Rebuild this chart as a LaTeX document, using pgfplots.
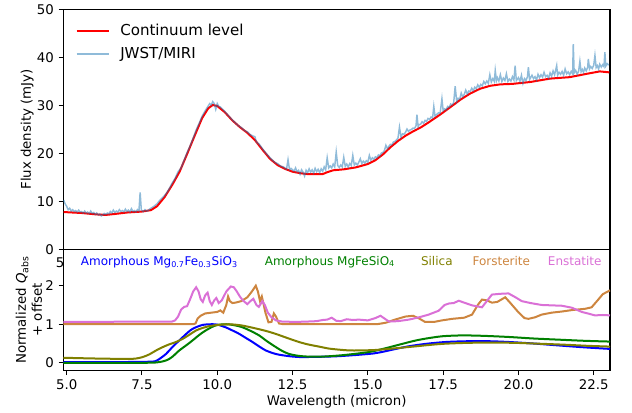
\documentclass[border=0pt]{standalone}
\usepackage{fontspec}
\setmainfont{DejaVu Sans}
\usepackage{pgfplots}
\pgfplotsset{compat=1.18}
\usetikzlibrary{calc}

\definecolor{mplblue}{HTML}{1F77B4}
\definecolor{mplgreen}{HTML}{008000}
\definecolor{mplolive}{HTML}{808000}
\definecolor{mplperu}{HTML}{CD853F}
\definecolor{mplorchid}{HTML}{DA70D6}

\pgfplotsset{
  panel/.style={
    scale only axis, width=410pt,
    xmin=4.89, xmax=23.04,
    tick align=outside, tick pos=left,
    major tick length=3.5pt,
    tick style={black, line width=0.8pt},
    axis line style={line width=0.8pt},
    /pgf/number format/assume math mode=true,
    clip=false,
  },
}

\begin{document}
\begin{tikzpicture}
% upper panel: spectrum and continuum
\begin{axis}[panel, name=top,
  height=180pt,
  ymin=0, ymax=50, ytick={0,10,...,50},
  xtick=\empty,
  ylabel={Flux density (mJy)},
  ylabel style={at={(axis description cs:-0.066,0.5)}, anchor=center},
  legend style={draw=none, fill=none, at={(axis description cs:0,1)},
    anchor=north west, xshift=6pt, yshift=-7pt,
    font=\fontsize{11.3}{13.5}\selectfont, row sep=3pt,
    /tikz/every odd column/.append style={column sep=6pt}},
  legend cell align=left,
  legend image code/.code={\draw[#1] (0pt,0pt) -- (24pt,0pt);},
]
\addplot[red, line width=1.5pt] coordinates {
(4.9,7.8) (5.5,7.6) (6.0,7.3) (6.3,7.2) (6.6,7.4) (7.0,7.7) (7.5,7.9) (7.8,8.2)
(8.0,9.0) (8.25,10.9) (8.5,13.4) (8.75,16.2) (9.0,19.9) (9.25,23.7) (9.5,27.4)
(9.7,29.4) (9.85,30.1) (10.0,29.9) (10.25,28.6) (10.5,26.9) (10.75,25.5) (11.0,24.3)
(11.25,22.8) (11.5,20.8) (11.75,18.9) (12.0,17.6) (12.25,16.8) (12.5,16.2) (12.75,15.9)
(13.0,15.7) (13.5,15.7) (13.65,16.1) (13.85,16.5) (14.2,16.7) (14.6,17.1) (15.0,17.8)
(15.25,18.6) (15.5,19.8) (15.75,21.3) (16.0,22.6) (16.25,23.7) (16.5,24.6) (16.75,25.4)
(17.0,26.4) (17.4,28.1) (17.75,29.7) (18.07,31.2) (18.4,32.5) (18.73,33.5) (19.06,34.1)
(19.4,34.4) (19.8,34.5) (20.4,34.9) (21.05,35.6) (21.7,35.9) (22.27,36.6) (22.7,37.1)
(23.02,36.9)
};
\addlegendentry{Continuum level}
\addplot[mplblue, opacity=0.5, line width=1.1pt] coordinates {
(4.9,10.3) (4.95,9.5) (5.0,9.0) (5.05,8.3) (5.1,8.6) (5.15,8.0) (5.2,8.3) (5.25,7.9)
(5.3,8.1) (5.35,7.8) (5.4,8.2) (5.45,7.8) (5.5,7.9) (5.55,7.6) (5.6,8.0) (5.65,7.6)
(5.7,7.8) (5.75,7.5) (5.8,8.0) (5.85,7.5) (5.9,7.7) (5.95,7.3) (6.0,7.6) (6.05,7.2)
(6.1,7.4) (6.15,7.0) (6.2,7.2) (6.25,7.5) (6.3,7.3) (6.35,7.6) (6.4,7.4) (6.45,7.9)
(6.5,7.6) (6.55,8.2) (6.6,7.7) (6.65,8.0) (6.7,7.8) (6.75,8.3) (6.8,7.9) (6.85,8.1)
(6.9,7.8) (6.95,8.4) (7.0,7.9) (7.05,8.2) (7.1,7.8) (7.15,8.5) (7.2,7.9) (7.25,8.1)
(7.3,7.8) (7.35,8.3) (7.4,8.0) (7.44,11.9) (7.48,8.2) (7.55,7.9) (7.6,8.3) (7.65,8.0)
(7.7,8.1) (7.75,8.4) (7.8,8.6) (7.9,9.0) (8.0,9.5) (8.1,10.3) (8.2,10.9) (8.3,11.6)
(8.4,12.6) (8.5,13.8) (8.6,14.8) (8.7,16.2) (8.8,17.0) (8.9,18.6) (9.0,20.2) (9.1,21.6)
(9.2,23.2) (9.3,24.9) (9.4,26.3) (9.5,27.8) (9.6,28.9) (9.7,29.9) (9.75,30.4) (9.8,30.1)
(9.85,30.8) (9.9,30.4) (9.95,29.2) (10.0,30.4) (10.05,29.8) (10.1,29.7) (10.2,29.1)
(10.3,28.4) (10.4,27.7) (10.5,27.0) (10.6,26.4) (10.7,25.8) (10.8,25.4) (10.9,24.8)
(11.0,24.5) (11.1,23.9) (11.2,23.6) (11.25,23.5) (11.3,22.4) (11.4,21.9) (11.5,21.0)
(11.6,20.2) (11.7,19.5) (11.8,18.8) (11.9,18.2) (12.0,17.9) (12.1,17.4) (12.2,17.2)
(12.3,16.7) (12.35,18.7) (12.4,16.6) (12.45,16.9)
(12.50,16.6) (12.55,16.3) (12.60,17.0) (12.65,16.2) (12.70,16.5) (12.75,15.7) (12.80,16.6)
(12.85,16.1) (12.90,15.3) (12.95,16.5) (13.00,16.0) (13.05,16.8) (13.10,16.1) (13.15,16.6)
(13.20,15.9) (13.25,16.9) (13.30,16.2) (13.35,16.7) (13.40,16.0) (13.45,16.8) (13.50,16.3)
(13.55,17.2) (13.60,16.6) (13.65,19.1) (13.70,17.0) (13.75,17.4) (13.80,17.0) (13.85,17.8)
(13.90,17.2) (13.95,20.3) (14.00,17.5) (14.05,17.1) (14.10,17.6) (14.15,17.2) (14.20,19.2)
(14.25,17.3) (14.30,17.8) (14.35,17.2) (14.40,17.9) (14.45,17.5) (14.50,19.6) (14.55,17.6)
(14.60,18.0) (14.65,17.6) (14.70,18.2) (14.75,18.9) (14.80,17.9) (14.85,18.4) (14.90,18.0)
(14.95,18.5) (15.00,18.2) (15.05,19.6) (15.10,18.6) (15.15,19.1) (15.20,18.8) (15.25,19.3)
(15.30,19.1) (15.35,19.7) (15.40,19.5) (15.45,20.1) (15.50,20.2) (15.55,20.6) (15.60,21.7)
(15.65,21.0) (15.70,21.5) (15.75,21.9) (15.80,21.8) (15.85,22.4) (15.90,22.5) (15.95,22.8)
(16.00,23.2) (16.05,25.5) (16.10,23.4) (16.15,24.1) (16.20,24.0) (16.25,24.4) (16.30,25.1)
(16.35,24.6) (16.40,24.9) (16.45,25.0) (16.50,25.3) (16.55,25.2) (16.60,25.8) (16.63,28.1)
(16.67,25.6) (16.70,26.0) (16.75,26.1) (16.80,26.6) (16.85,26.3) (16.90,26.9) (16.95,26.7)
(17.00,27.3) (17.05,27.1) (17.10,27.6) (17.15,27.4) (17.19,29.8) (17.23,27.8) (17.30,28.2)
(17.35,28.5) (17.40,28.4) (17.46,31.4) (17.50,28.9) (17.55,29.3) (17.60,29.1) (17.65,29.8)
(17.70,29.6) (17.75,30.3) (17.80,30.1) (17.85,30.6) (17.90,34.0) (17.95,30.8) (18.00,31.5)
(18.05,31.3) (18.10,32.6) (18.15,31.8) (18.20,32.3) (18.25,33.2) (18.30,32.4) (18.35,33.0)
(18.40,32.9) (18.45,33.6) (18.50,33.1) (18.55,33.8) (18.60,33.5) (18.65,34.3) (18.70,33.8)
(18.75,34.4) (18.80,34.1) (18.85,35.0) (18.90,34.5) (18.95,35.1) (19.00,34.6) (19.05,36.4)
(19.10,34.9) (19.15,35.6) (19.20,35.0) (19.23,37.3) (19.27,35.2) (19.30,35.8) (19.35,35.1)
(19.40,36.4) (19.45,35.0) (19.50,35.7) (19.55,35.2) (19.60,36.6) (19.65,35.0) (19.70,35.5)
(19.75,35.1) (19.80,36.0) (19.85,35.3) (19.89,38.3) (19.93,35.2) (20.00,35.8) (20.05,35.0)
(20.10,36.3) (20.15,34.6) (20.20,35.6) (20.25,35.2) (20.30,36.0) (20.33,38.0) (20.37,35.4)
(20.45,36.3) (20.50,35.6) (20.55,36.0) (20.60,35.3) (20.65,36.5) (20.70,35.8) (20.75,36.4)
(20.80,35.9) (20.85,36.9) (20.90,36.0) (20.95,36.3) (21.00,35.7) (21.05,36.8) (21.10,36.1)
(21.15,37.2) (21.20,36.4) (21.27,38.3) (21.30,36.3) (21.35,36.9) (21.40,36.5) (21.45,37.1)
(21.50,36.3) (21.55,37.6) (21.60,36.6) (21.65,37.0) (21.70,36.4) (21.75,37.1) (21.80,36.6)
(21.82,42.8) (21.85,36.8) (21.90,37.3) (21.95,36.5) (22.00,37.2) (22.04,39.2) (22.08,37.0)
(22.12,37.5) (22.16,36.9) (22.20,37.8) (22.25,37.2) (22.30,38.0) (22.32,39.7) (22.36,37.6)
(22.40,38.1) (22.45,37.7) (22.50,38.4) (22.54,40.4) (22.58,37.9) (22.62,38.3) (22.66,37.6)
(22.70,38.6) (22.75,38.0) (22.80,38.5) (22.84,38.1) (22.87,41.1) (22.90,38.2) (22.95,38.7)
(23.00,38.4)
};
\addlegendentry{JWST/MIRI}
\end{axis}

% lower panel: normalized absorption efficiencies
\begin{axis}[panel, name=bot,
  at={(top.south west)}, anchor=north west,
  height=90.75pt,
  ymin=-0.2, ymax=2.94, ytick={0,1,2},
  xtick={5,7.5,10,12.5,15,17.5,20,22.5},
  xticklabel style={/pgf/number format/.cd, fixed, fixed zerofill, precision=1},
  xlabel={Wavelength (micron)},
  xlabel style={at={(axis description cs:0.5,0)}, anchor=base, yshift=-26pt},
  ylabel={Normalized \textit{Q}\textsubscript{abs}\\+ offset},
  ylabel style={at={(axis description cs:-0.063,0.5)}, anchor=center, align=center},
]
\addplot[blue, line width=1.5pt, smooth] coordinates {
(4.89,0.02) (7.0,0.02) (7.8,0.03) (8.0,0.06) (8.3,0.23) (8.5,0.4) (8.74,0.58) (9.0,0.77)
(9.18,0.88) (9.5,0.98) (9.8,1.0) (10.0,0.99) (10.28,0.92) (10.5,0.84) (10.73,0.75)
(11.0,0.62) (11.17,0.54) (11.4,0.42) (11.61,0.32) (11.85,0.25) (12.05,0.21) (12.4,0.17)
(12.71,0.15) (13.05,0.15) (14.0,0.17) (15.04,0.23) (15.4,0.27) (15.7,0.32) (16.3,0.42)
(16.91,0.49) (17.6,0.54) (18.35,0.56) (19.0,0.56) (19.67,0.54) (20.5,0.50) (21.33,0.45)
(22.2,0.40) (23.04,0.36)
};
\addplot[mplgreen, line width=1.5pt, smooth] coordinates {
(4.89,0.0) (7.5,0.0) (8.0,0.01) (8.3,0.06) (8.5,0.15) (8.74,0.32) (9.0,0.47) (9.18,0.58)
(9.4,0.72) (9.62,0.84) (9.95,0.97) (10.3,1.0) (10.6,0.97) (10.84,0.92) (11.1,0.83)
(11.39,0.71) (11.65,0.56) (11.94,0.41) (12.15,0.31) (12.38,0.23) (12.7,0.18) (13.05,0.16)
(13.5,0.16) (14.2,0.2) (15.04,0.28) (15.6,0.38) (16.14,0.49) (16.6,0.58) (17.02,0.64)
(17.5,0.69) (18.13,0.71) (18.8,0.70) (19.67,0.67) (20.5,0.63) (21.33,0.6) (22.2,0.57)
(23.04,0.55)
};
\addplot[mplolive, line width=1.5pt, smooth] coordinates {
(4.89,0.13) (6.0,0.11) (7.0,0.1) (7.3,0.11) (7.53,0.15) (7.75,0.22) (7.97,0.32) (8.2,0.41)
(8.41,0.48) (8.6,0.53) (8.85,0.62) (9.1,0.74) (9.3,0.84) (9.5,0.90) (9.73,0.95) (10.0,0.98)
(10.39,1.0) (10.8,0.97) (11.17,0.91) (11.6,0.83) (11.94,0.75) (12.3,0.65) (12.71,0.54)
(13.05,0.47) (13.38,0.42) (13.7,0.37) (14.05,0.34) (14.4,0.32) (14.7,0.32) (15.2,0.33)
(15.7,0.36) (16.5,0.42) (17.46,0.49) (18.5,0.52) (19.67,0.52) (20.5,0.5) (21.5,0.47)
(22.3,0.44) (23.04,0.42)
};
\addplot[mplperu, line width=1.5pt] coordinates {
(4.89,1.0) (9.2,1.0) (9.28,1.02) (9.35,1.15) (9.45,1.22) (9.6,1.28) (9.8,1.3) (10.0,1.32)
(10.1,1.36) (10.2,1.3) (10.3,1.5) (10.36,1.72) (10.42,1.6) (10.5,1.55) (10.6,1.56)
(10.8,1.6) (11.0,1.7) (11.15,1.85) (11.28,2.0) (11.35,1.85) (11.42,1.6) (11.48,1.72)
(11.53,1.55) (11.6,1.3) (11.7,1.05) (11.8,1.06) (11.88,1.28) (11.95,1.2) (12.05,1.02)
(12.2,1.0) (15.3,1.0) (15.6,1.04) (15.9,1.12) (16.25,1.2) (16.5,1.22) (16.7,1.15)
(16.9,1.06) (17.2,1.06) (17.46,1.1) (17.8,1.14) (18.2,1.17) (18.46,1.25) (18.65,1.5)
(18.79,1.64) (18.95,1.62) (19.12,1.56) (19.3,1.58) (19.56,1.70) (19.7,1.58) (20.0,1.31)
(20.2,1.16) (20.33,1.14) (20.55,1.18) (20.77,1.25) (21.1,1.3) (21.44,1.33) (21.8,1.37)
(22.21,1.40) (22.43,1.44) (22.65,1.64) (22.8,1.78) (23.04,1.88)
};
\addplot[mplorchid, line width=1.5pt] coordinates {
(4.89,1.06) (8.5,1.07) (8.6,1.1) (8.7,1.2) (8.8,1.38) (8.9,1.45) (9.0,1.47) (9.1,1.65)
(9.2,1.85) (9.3,1.96) (9.38,1.85) (9.45,1.65) (9.52,1.58) (9.6,1.75) (9.68,1.82)
(9.75,1.6) (9.82,1.5) (9.9,1.62) (9.97,1.68) (10.05,1.55) (10.15,1.62) (10.3,1.85)
(10.45,1.98) (10.55,1.96) (10.65,1.85) (10.75,1.72) (10.85,1.62) (11.0,1.52) (11.1,1.6)
(11.2,1.66) (11.3,1.5) (11.38,1.45) (11.5,1.6) (11.58,1.5) (11.68,1.3) (11.8,1.18)
(11.95,1.1) (12.15,1.07) (12.6,1.06) (13.0,1.07) (13.3,1.08) (13.5,1.11) (13.65,1.12)
(13.8,1.17) (13.95,1.09) (14.1,1.08) (14.3,1.13) (14.5,1.11) (14.7,1.12) (15.0,1.1)
(15.25,1.16) (15.42,1.22) (15.55,1.15) (15.7,1.07) (16.0,1.08) (16.36,1.12) (16.7,1.18)
(17.02,1.25) (17.35,1.35) (17.55,1.5) (17.7,1.54) (17.85,1.55) (18.02,1.61) (18.2,1.56)
(18.46,1.49) (18.79,1.44) (18.95,1.6) (19.12,1.77) (19.4,1.79) (19.67,1.8) (19.9,1.7)
(20.11,1.6) (20.4,1.55) (20.77,1.5) (21.1,1.49) (21.44,1.48) (21.77,1.43) (22.1,1.32)
(22.35,1.27) (22.54,1.23) (22.8,1.24) (23.04,1.23)
};
\node[font=\fontsize{9}{11}\selectfont, text=blue, anchor=base] at (axis cs:8.08,2.53)
  {Amorphous Mg\textsubscript{0.7}Fe\textsubscript{0.3}SiO\textsubscript{3}};
\node[font=\fontsize{9}{11}\selectfont, text=mplgreen, anchor=base] at (axis cs:13.74,2.53)
  {Amorphous MgFeSiO\textsubscript{4}};
\node[font=\fontsize{9}{11}\selectfont, text=mplolive, anchor=base] at (axis cs:17.29,2.53) {Silica};
\node[font=\fontsize{9}{11}\selectfont, text=mplperu, anchor=base] at (axis cs:19.43,2.53) {Forsterite};
\node[font=\fontsize{9}{11}\selectfont, text=mplorchid, anchor=base] at (axis cs:21.87,2.53) {Enstatite};
\node[anchor=center, xshift=-2.5pt] at (axis cs:4.89,2.6) {5};
\end{axis}

\path ($(top.north west)+(-47.5pt,6.2pt)$) rectangle ($(bot.south east)+(16.5pt,-30.75pt)$);
\end{tikzpicture}
\end{document}
